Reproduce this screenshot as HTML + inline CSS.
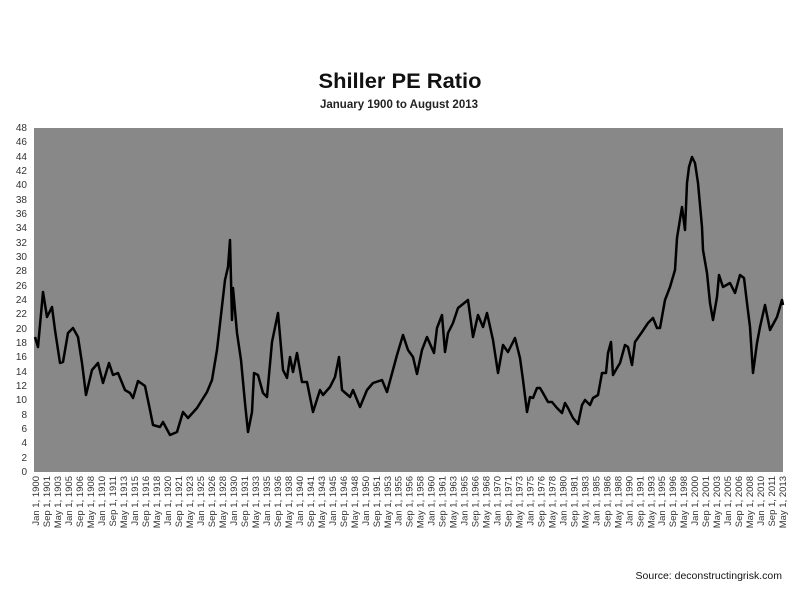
<!DOCTYPE html>
<html><head><meta charset="utf-8"><style>
html,body{margin:0;padding:0;background:#fff;}
svg{display:block;font-family:"Liberation Sans",sans-serif;}
</style></head><body>
<svg width="800" height="600" viewBox="0 0 800 600" xmlns="http://www.w3.org/2000/svg">
<rect width="800" height="600" fill="#fff"/>
<text x="400" y="88" text-anchor="middle" font-size="21" font-weight="bold" fill="#111" textLength="163" lengthAdjust="spacingAndGlyphs">Shiller PE Ratio</text>
<text x="399" y="108" text-anchor="middle" font-size="11.5" font-weight="bold" fill="#222" textLength="158" lengthAdjust="spacingAndGlyphs">January 1900 to August 2013</text>
<rect x="34" y="128" width="749" height="344" fill="#888888"/>
<g font-size="10" fill="#333" text-anchor="end">
<text x="27" y="475">0</text><text x="27" y="461">2</text><text x="27" y="446">4</text><text x="27" y="432">6</text><text x="27" y="418">8</text><text x="27" y="403">10</text><text x="27" y="389">12</text><text x="27" y="375">14</text><text x="27" y="360">16</text><text x="27" y="346">18</text><text x="27" y="332">20</text><text x="27" y="317">22</text><text x="27" y="303">24</text><text x="27" y="289">26</text><text x="27" y="274">28</text><text x="27" y="260">30</text><text x="27" y="246">32</text><text x="27" y="231">34</text><text x="27" y="217">36</text><text x="27" y="203">38</text><text x="27" y="188">40</text><text x="27" y="174">42</text><text x="27" y="160">44</text><text x="27" y="145">46</text><text x="27" y="131">48</text>
</g>
<g transform="translate(0,476) rotate(-90)" font-size="9.5" fill="#333" text-anchor="end">
<text x="0" y="39">Jan 1, 1900</text><text x="0" y="50">Sep 1, 1901</text><text x="0" y="61">May 1, 1903</text><text x="0" y="72">Jan 1, 1905</text><text x="0" y="83">Sep 1, 1906</text><text x="0" y="94">May 1, 1908</text><text x="0" y="105">Jan 1, 1910</text><text x="0" y="116">Sep 1, 1911</text><text x="0" y="127">May 1, 1913</text><text x="0" y="138">Jan 1, 1915</text><text x="0" y="149">Sep 1, 1916</text><text x="0" y="160">May 1, 1918</text><text x="0" y="171">Jan 1, 1920</text><text x="0" y="182">Sep 1, 1921</text><text x="0" y="193">May 1, 1923</text><text x="0" y="204">Jan 1, 1925</text><text x="0" y="215">Sep 1, 1926</text><text x="0" y="226">May 1, 1928</text><text x="0" y="237">Jan 1, 1930</text><text x="0" y="248">Sep 1, 1931</text><text x="0" y="259">May 1, 1933</text><text x="0" y="270">Jan 1, 1935</text><text x="0" y="281">Sep 1, 1936</text><text x="0" y="292">May 1, 1938</text><text x="0" y="303">Jan 1, 1940</text><text x="0" y="314">Sep 1, 1941</text><text x="0" y="325">May 1, 1943</text><text x="0" y="336">Jan 1, 1945</text><text x="0" y="347">Sep 1, 1946</text><text x="0" y="358">May 1, 1948</text><text x="0" y="369">Jan 1, 1950</text><text x="0" y="380">Sep 1, 1951</text><text x="0" y="391">May 1, 1953</text><text x="0" y="401.5">Jan 1, 1955</text><text x="0" y="412.5">Sep 1, 1956</text><text x="0" y="423.5">May 1, 1958</text><text x="0" y="434.5">Jan 1, 1960</text><text x="0" y="445.5">Sep 1, 1961</text><text x="0" y="456.5">May 1, 1963</text><text x="0" y="467.5">Jan 1, 1965</text><text x="0" y="478.5">Sep 1, 1966</text><text x="0" y="489.5">May 1, 1968</text><text x="0" y="500.5">Jan 1, 1970</text><text x="0" y="511.5">Sep 1, 1971</text><text x="0" y="522.5">May 1, 1973</text><text x="0" y="533.5">Jan 1, 1975</text><text x="0" y="544.5">Sep 1, 1976</text><text x="0" y="555.5">May 1, 1978</text><text x="0" y="566.5">Jan 1, 1980</text><text x="0" y="577.5">Sep 1, 1981</text><text x="0" y="588.5">May 1, 1983</text><text x="0" y="599.5">Jan 1, 1985</text><text x="0" y="610.5">Sep 1, 1986</text><text x="0" y="621.5">May 1, 1988</text><text x="0" y="632.5">Jan 1, 1990</text><text x="0" y="643.5">Sep 1, 1991</text><text x="0" y="654.5">May 1, 1993</text><text x="0" y="665">Jan 1, 1995</text><text x="0" y="676">Sep 1, 1996</text><text x="0" y="687">May 1, 1998</text><text x="0" y="698">Jan 1, 2000</text><text x="0" y="709">Sep 1, 2001</text><text x="0" y="720">May 1, 2003</text><text x="0" y="731">Jan 1, 2005</text><text x="0" y="742">Sep 1, 2006</text><text x="0" y="753">May 1, 2008</text><text x="0" y="764">Jan 1, 2010</text><text x="0" y="775">Sep 1, 2011</text><text x="0" y="786">May 1, 2013</text>
</g>
<polyline fill="none" stroke="#000" stroke-width="2.5" stroke-linejoin="round" points="
35,337 38,347 43,292 47,317 52,307 55,330 60,363 63,362 68,333 73,328 78,337 82,363 86,395 92,370 98,363 103,383 109,363 113,375 118,373 125,390 130,393 133,398 138,381 145,386 150,410 153,425 160,427 163,422 170,435 177,432 183,412 188,418 197,408 207,392 212,380 217,350 225,280 228,267 230,240 232,320 233,288 237,333 241,360 245,403 248,432 252,412 254,373 258,375 263,393 267,397 272,342 278,313 283,370 287,378 290,357
293,372 297,353 302,382 307,382 313,412 320,390 323,395 330,387 335,377 339,357 342,390 350,397 353,390 360,407 367,390 373,383 382,380 387,392 397,355 403,335 408,350 413,357 417,374 422,350 427,337 434,353 437,328 442,315 445,352 448,333 453,323 458,308 468,300 473,337 478,315 483,327 487,313 493,340 498,373 503,345 508,352 515,338 520,358
523,380 527,412 530,397 533,398 537,388 540,388 543,393 548,402 552,402 557,408 562,413 565,403 568,408 573,418 578,424 582,405 585,400 590,405 593,398 598,395 602,373 606,373 608,353 611,342 613,375 617,368 620,363
625,345 628,347 632,365 635,342 642,332 648,323 653,318 657,328 660,328 665,300 670,287 675,270 677,238 682,207 685,230 687,183 689,167 692,157 695,163 698,183 702,227 703,250 707,273 710,303 713,320 717,297 719,275 723,287 730,283 735,293 740,275 744,278 747,303 750,327 753,373 757,343 760,327 765,305 770,330 777,317 782,300 783,305"/>
<text x="782" y="579" text-anchor="end" font-size="10.5" fill="#111">Source: deconstructingrisk.com</text>
</svg>
</body></html>
